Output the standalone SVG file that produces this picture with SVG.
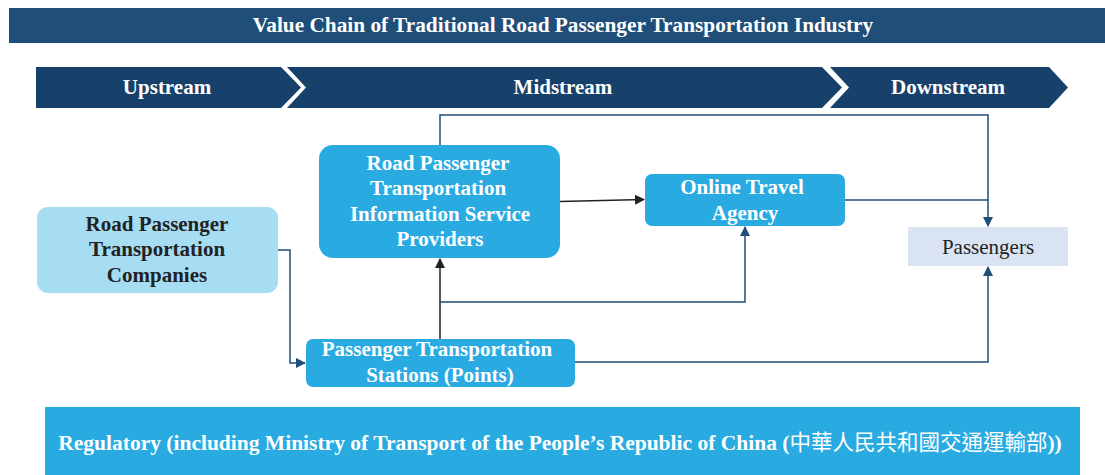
<svg xmlns="http://www.w3.org/2000/svg" width="1105" height="475" viewBox="0 0 1105 475">
<style>
text{font-family:"Liberation Serif","Noto Sans CJK TC",serif;font-size:21px;text-anchor:middle}
.b{font-weight:bold}
.w{fill:#ffffff}
.d{fill:#222222}
.node{fill:#29ABE2}
.conn{fill:none;stroke:#1F4E79;stroke-width:1.5}
.blk{fill:none;stroke:#222222;stroke-width:1.5}
</style>
<defs>
<marker id="ab" viewBox="0 0 10 10" refX="9" refY="5" markerWidth="10" markerHeight="10" markerUnits="userSpaceOnUse" orient="auto"><path d="M0,0 L10,5 L0,10 z" fill="#1F4E79"/></marker>
<marker id="ak" viewBox="0 0 10 10" refX="9" refY="5" markerWidth="10" markerHeight="10" markerUnits="userSpaceOnUse" orient="auto"><path d="M0,0 L10,5 L0,10 z" fill="#222222"/></marker>
</defs>
<rect width="1105" height="475" fill="#ffffff"/>
<g id="title">
<rect x="9" y="8" width="1096" height="35" fill="#1F4E79"/>
<text class="b w" x="563" y="32" style="font-size:21.3px">Value Chain of Traditional Road Passenger Transportation Industry</text>
</g>
<g id="stages">
<path d="M36,67 L281,67 L301,87.5 L281,108 L36,108 z" fill="#17416B"/>
<path d="M287,67 L822,67 L842,87.5 L822,108 L287,108 L306,87.5 z" fill="#17416B"/>
<path d="M830,67 L1049,67 L1068,87.5 L1049,108 L830,108 L849,87.5 z" fill="#17416B"/>
<text class="b w" x="167" y="94">Upstream</text>
<text class="b w" x="563" y="94">Midstream</text>
<text class="b w" x="948" y="94">Downstream</text>
</g>
<g id="connectors">
<polyline class="conn" points="278,250 290,250 290,363 305,363" marker-end="url(#ab)"/>
<line class="blk" x1="440" y1="339" x2="440" y2="259" marker-end="url(#ak)"/>
<polyline class="conn" points="440,302 745,302 745,227" marker-end="url(#ab)"/>
<line class="blk" x1="560" y1="201.5" x2="644" y2="199.5" marker-end="url(#ak)"/>
<polyline class="conn" points="440,145 440,115 988,115 988,226" marker-end="url(#ab)"/>
<polyline class="conn" points="845,200 988,200"/>
<polyline class="conn" points="575,362 988,362 988,267" marker-end="url(#ab)"/>
</g>
<g id="companies">
<rect x="37" y="207" width="241" height="86" rx="11" fill="#A6DDF2"/>
<text class="b d" x="157" y="231">Road Passenger</text>
<text class="b d" x="157" y="256">Transportation</text>
<text class="b d" x="157" y="282">Companies</text>
</g>
<g id="info-providers">
<rect x="319" y="145" width="241" height="113" rx="14" class="node"/>
<text class="b w" x="438" y="170">Road Passenger</text>
<text class="b w" x="438" y="195">Transportation</text>
<text class="b w" x="440" y="221">Information  Service</text>
<text class="b w" x="440" y="246">Providers</text>
</g>
<g id="stations">
<rect x="306" y="339" width="269" height="48" rx="7" class="node"/>
<text class="b w" x="437" y="356">Passenger Transportation</text>
<text class="b w" x="440" y="382">Stations (Points)</text>
</g>
<g id="ota">
<rect x="645" y="174" width="200" height="52" rx="7" class="node"/>
<text class="b w" x="742" y="194">Online Travel</text>
<text class="b w" x="745" y="220">Agency</text>
</g>
<g id="passengers">
<rect x="908" y="227" width="160" height="39" fill="#DAE3F1"/>
<text class="d" x="988" y="254">Passengers</text>
</g>
<g id="regulatory">
<rect x="45" y="407" width="1035" height="68" class="node"/>
<text class="b w" x="560" y="450" style="font-size:21.5px">Regulatory (including Ministry of Transport of the People’s Republic of China (<tspan style="font-weight:normal">中華人民共和國交通運輸部</tspan>))</text>
</g>
</svg>
